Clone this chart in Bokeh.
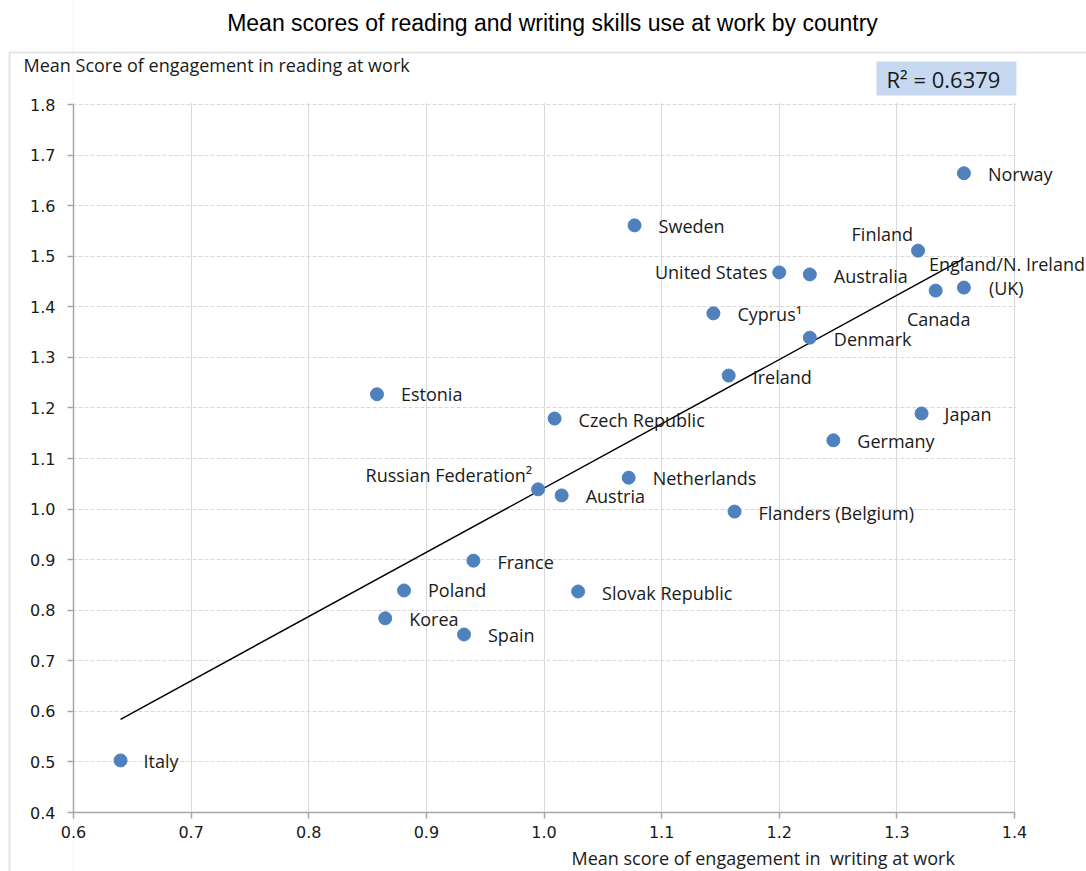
import numpy as np
from bokeh.plotting import figure
from bokeh.models import (ColumnDataSource, LabelSet, Label, Range1d, BoxAnnotation,
                          SingleIntervalTicker, NumeralTickFormatter)
from bokeh.core.properties import value
from bokeh.embed import file_html
from bokeh.resources import INLINE

# ---------------- data ----------------
countries = ["Norway", "Sweden", "Finland", "United States", "Australia",
             "England/N. Ireland\n(UK)", "Canada", "Cyprus\u00b9", "Denmark", "Ireland",
             "Estonia", "Czech Republic", "Japan", "Germany", "Netherlands",
             "Russian Federation\u00b2", "Austria", "Flanders (Belgium)", "France",
             "Poland", "Slovak Republic", "Korea", "Spain", "Italy"]
writing = [1.357, 1.077, 1.318, 1.200, 1.226, 1.357, 1.333, 1.144, 1.226, 1.157,
           0.858, 1.009, 1.321, 1.246, 1.072, 0.995, 1.015, 1.162, 0.940,
           0.881, 1.029, 0.865, 0.932, 0.640]
reading = [1.664, 1.561, 1.511, 1.468, 1.464, 1.438, 1.432, 1.387, 1.339, 1.264,
           1.227, 1.179, 1.189, 1.136, 1.062, 1.039, 1.027, 0.995, 0.898,
           0.839, 0.837, 0.784, 0.752, 0.503]
r_squared = "R\u00b2 = 0.6379"
title_text = "Mean scores of reading and writing skills use at work by country"
x_title = "Mean score of engagement in\u00a0 writing at work"
y_title = "Mean Score of engagement in reading at work"
x_lo, x_hi = 0.6, 1.4
y_lo, y_hi = 0.4, 1.8

# ---------------- layout (pixels) ----------------
W, H = 1086, 871
PX_L, PX_R = 73, 1014      # plot box left/right in page px
PY_T, PY_B = 104, 812      # plot box top/bottom in page px
kx = (PX_R - PX_L) / (x_hi - x_lo)
ky = (PY_B - PY_T) / (y_hi - y_lo)
def fx(px):
    return x_lo + (px - PX_L) / kx
def fy(py):
    return y_hi - (py - PY_T) / ky

# label placement per text line (screen px offsets; +dy = up) -- layout only
default_pos = [(24, -1, "left")]
label_pos = {
    "Finland": [(-5, 17, "right")],
    "United States": [(-12, 0, "right")],
    "Australia": [(24, -2, "left")],
    "England/N. Ireland\n(UK)": [(-35, 24, "left"), (25, 0, "left")],
    "Canada": [(3, -28, "center")],
    "Estonia": [(24, 0, "left")],
    "Japan": [(23, -1, "left")],
    "Netherlands": [(24, 0, "left")],
    "Russian Federation\u00b2": [(-6, 14, "right")],
    "Poland": [(24, 0, "left")],
    "Italy": [(23, -1, "left")],
}

LABEL_FONT = "Open Sans"
TXT = "#1a1a1a"
AXC = "#a6a6a6"

p = figure(width=W, height=H, x_range=Range1d(fx(0), fx(W)), y_range=Range1d(fy(H), fy(0)),
           output_backend="svg", toolbar_location=None,
           min_border_left=0, min_border_top=0, min_border_right=0, min_border_bottom=0)
p.outline_line_color = None
p.background_fill_color = "white"
p.border_fill_color = "white"

eps = 1e-6
p.xaxis.fixed_location = y_lo
p.yaxis.fixed_location = x_lo
p.xaxis.bounds = (x_lo - eps, x_hi + eps)
p.yaxis.bounds = (y_lo - eps, y_hi + eps)
for ax in (p.xaxis[0], p.yaxis[0]):
    ax.ticker = SingleIntervalTicker(interval=0.1)
    ax.formatter = NumeralTickFormatter(format="0.0")
    ax.axis_line_color = AXC
    ax.axis_line_width = 1.5
    ax.major_tick_line_color = AXC
    ax.major_tick_line_width = 1.5
    ax.major_tick_out = 6
    ax.major_tick_in = 0
    ax.minor_tick_line_color = None
    ax.major_label_text_font = "DejaVu Sans"
    ax.major_label_text_font_size = "16px"
    ax.major_label_text_color = TXT
p.xaxis.major_label_standoff = 7
p.yaxis.major_label_standoff = 12

p.xgrid.grid_line_color = "#d9d9d9"
p.ygrid.grid_line_color = "#d9d9d9"
p.ygrid.grid_line_dash = "4 2"
p.xgrid.bounds = (x_lo - eps, x_hi + eps)
p.ygrid.bounds = (y_lo - eps, y_hi + eps)

# white masks hiding grid lines outside the plot box
X0, X1, Y0, Y1 = fx(0), fx(W), fy(H), fy(0)
ex, ey = 1.5 / kx, 1.5 / ky
p.quad(left=[X0, x_hi + ex, x_lo, x_lo], right=[x_lo, X1, x_hi + ex, x_hi + ex],
       bottom=[Y0, Y0, y_hi + ey, Y0], top=[Y1, Y1, Y1, y_lo],
       fill_color="white", line_color=None)

# chart-area border
p.add_layout(BoxAnnotation(left=fx(9), top=fy(52), right=fx(W + 40), bottom=fy(H + 40),
                           fill_color=None, fill_alpha=0, line_color=AXC, line_width=2))

# trend line (least squares fit of the data)
xs = np.array(writing)
ys = np.array(reading)
slope, intercept = np.polyfit(xs, ys, 1)
tx = np.array([xs.min(), xs.max()])
p.line(tx, slope * tx + intercept, line_color="black", line_width=1.5)

p.scatter(writing, reading, size=13, fill_color="#4f81bd", line_color="#4f81bd")

rows = {"left": dict(x=[], y=[], t=[], dx=[], dy=[]),
        "right": dict(x=[], y=[], t=[], dx=[], dy=[]),
        "center": dict(x=[], y=[], t=[], dx=[], dy=[])}
for name, wx, ry in zip(countries, writing, reading):
    lines = name.split("\n")
    pos = label_pos.get(name, default_pos * len(lines))
    for line, (dx, dy, al) in zip(lines, pos):
        r = rows[al]
        r["x"].append(wx); r["y"].append(ry); r["t"].append(line)
        r["dx"].append(dx); r["dy"].append(dy)
for al, r in rows.items():
    p.add_layout(LabelSet(x="x", y="y", text="t", source=ColumnDataSource(r),
                          x_offset="dx", y_offset="dy", text_align=al, text_baseline="middle",
                          text_font=value(LABEL_FONT), text_font_size="18px", text_color=TXT))

p.add_layout(Label(x=fx(552), y=fy(22), text=title_text, text_font="Liberation Sans",
                   text_font_size="23px", text_baseline="middle", text_align="center",
                   text_color="black"))
p.add_layout(Label(x=fx(23), y=fy(64), text=y_title, text_font=LABEL_FONT, text_font_size="18px",
                   text_baseline="middle", text_align="left", text_color=TXT))
p.add_layout(Label(x=fx(571), y=fy(857), text=x_title, text_font=LABEL_FONT, text_font_size="18px",
                   text_baseline="middle", text_align="left", text_color=TXT))
p.add_layout(Label(x=fx(876), y=fy(78), text=r_squared, text_font=LABEL_FONT, text_font_size="22px",
                   text_baseline="middle", text_align="left", text_color=TXT,
                   background_fill_color="#c6d9f1",
                   padding=dict(left=10, right=16, top=2, bottom=2)))

open("out.html", "w").write(file_html(p, INLINE))
